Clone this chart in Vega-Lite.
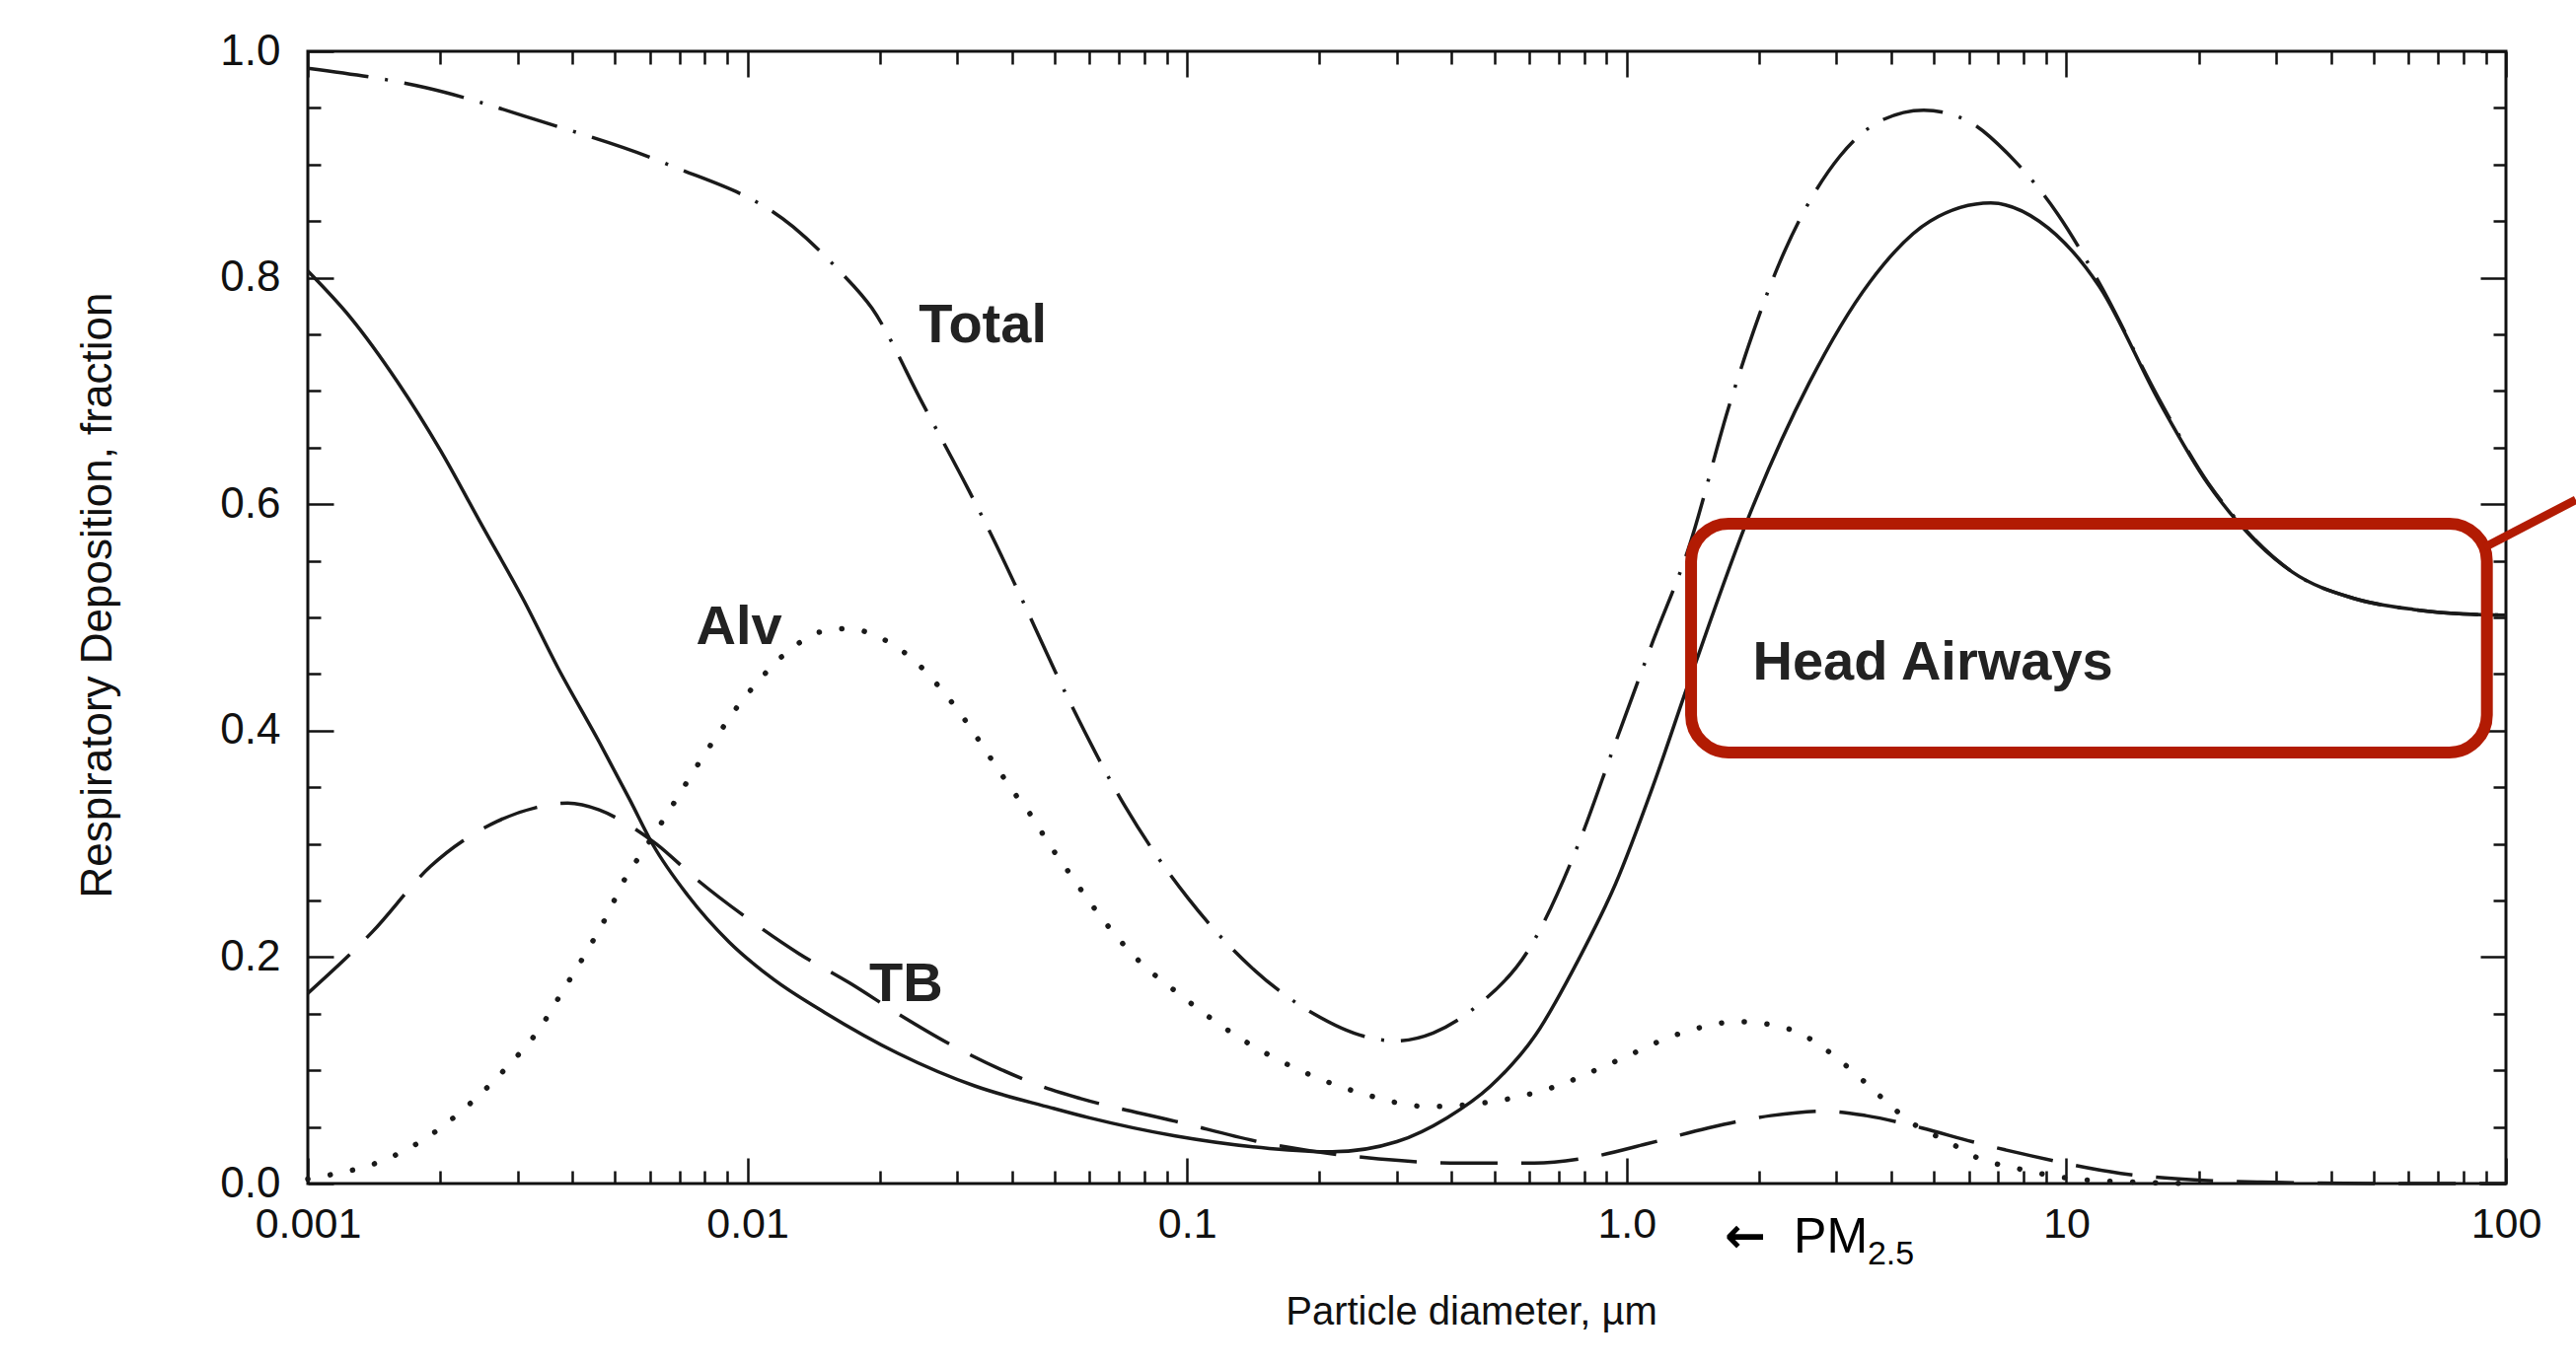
{
  "$schema": "https://vega.github.io/schema/vega-lite/v6.json",
  "width": 2228,
  "height": 1148,
  "autosize": {"type": "none"},
  "padding": {"left": 312, "top": 52, "right": 71, "bottom": 185},
  "background": "white",
  "config": {
    "view": {"stroke": "#111111", "strokeWidth": 3},
    "font": "Liberation Sans",
    "axis": {
      "domain": false, "grid": false,
      "tickColor": "#111111", "tickWidth": 2.5,
      "labelColor": "#111111", "labelFont": "Liberation Sans", "labelFontSize": 44,
      "labelOverlap": false, "labelFlush": false,
      "titleColor": "#111111", "titleFont": "Liberation Sans", "titleFontWeight": "normal"
    }
  },
  "resolve": {"axis": {"x": "independent", "y": "independent"}},
  "datasets": {
    "curves": [
      {"s":"Head Airways","d":0.001,"v":0.806},{"s":"Head Airways","d":0.00125,"v":0.765},{"s":"Head Airways","d":0.0016,"v":0.708},{"s":"Head Airways","d":0.002,"v":0.648},{"s":"Head Airways","d":0.0025,"v":0.58},{"s":"Head Airways","d":0.0031,"v":0.515},{"s":"Head Airways","d":0.0037,"v":0.456},{"s":"Head Airways","d":0.0046,"v":0.39},{"s":"Head Airways","d":0.0054,"v":0.339},{"s":"Head Airways","d":0.0061,"v":0.299},{"s":"Head Airways","d":0.0073,"v":0.255},{"s":"Head Airways","d":0.0091,"v":0.213},{"s":"Head Airways","d":0.0115,"v":0.18},{"s":"Head Airways","d":0.015,"v":0.151},{"s":"Head Airways","d":0.022,"v":0.115},{"s":"Head Airways","d":0.033,"v":0.086},{"s":"Head Airways","d":0.049,"v":0.067},{"s":"Head Airways","d":0.06,"v":0.058},{"s":"Head Airways","d":0.094,"v":0.042},{"s":"Head Airways","d":0.154,"v":0.031},{"s":"Head Airways","d":0.214,"v":0.028},{"s":"Head Airways","d":0.3,"v":0.037},{"s":"Head Airways","d":0.39,"v":0.058},{"s":"Head Airways","d":0.49,"v":0.086},{"s":"Head Airways","d":0.62,"v":0.131},{"s":"Head Airways","d":0.775,"v":0.197},{"s":"Head Airways","d":0.944,"v":0.265},{"s":"Head Airways","d":1.15,"v":0.352},{"s":"Head Airways","d":1.4,"v":0.448},{"s":"Head Airways","d":1.9,"v":0.59},{"s":"Head Airways","d":2.6,"v":0.707},{"s":"Head Airways","d":3.57,"v":0.796},{"s":"Head Airways","d":4.9,"v":0.85},{"s":"Head Airways","d":6.73,"v":0.866},{"s":"Head Airways","d":8.67,"v":0.85},{"s":"Head Airways","d":11.9,"v":0.792},{"s":"Head Airways","d":16.3,"v":0.69},{"s":"Head Airways","d":21,"v":0.618},{"s":"Head Airways","d":24.7,"v":0.583},{"s":"Head Airways","d":32.7,"v":0.54},{"s":"Head Airways","d":44.9,"v":0.517},{"s":"Head Airways","d":61.6,"v":0.507},{"s":"Head Airways","d":80,"v":0.503},{"s":"Head Airways","d":100,"v":0.502},
      {"s":"Total","d":0.001,"v":0.985},{"s":"Total","d":0.00185,"v":0.968},{"s":"Total","d":0.0034,"v":0.938},{"s":"Total","d":0.0066,"v":0.9},{"s":"Total","d":0.0127,"v":0.845},{"s":"Total","d":0.0161,"v":0.807},{"s":"Total","d":0.0192,"v":0.773},{"s":"Total","d":0.0251,"v":0.688},{"s":"Total","d":0.0319,"v":0.612},{"s":"Total","d":0.0366,"v":0.566},{"s":"Total","d":0.0413,"v":0.523},{"s":"Total","d":0.0537,"v":0.428},{"s":"Total","d":0.0723,"v":0.333},{"s":"Total","d":0.1005,"v":0.252},{"s":"Total","d":0.14,"v":0.191},{"s":"Total","d":0.194,"v":0.15},{"s":"Total","d":0.253,"v":0.13},{"s":"Total","d":0.298,"v":0.126},{"s":"Total","d":0.363,"v":0.133},{"s":"Total","d":0.457,"v":0.157},{"s":"Total","d":0.595,"v":0.205},{"s":"Total","d":0.775,"v":0.299},{"s":"Total","d":0.944,"v":0.39},{"s":"Total","d":1.15,"v":0.48},{"s":"Total","d":1.38,"v":0.56},{"s":"Total","d":1.72,"v":0.69},{"s":"Total","d":2.22,"v":0.812},{"s":"Total","d":3.05,"v":0.907},{"s":"Total","d":3.8,"v":0.939},{"s":"Total","d":4.74,"v":0.948},{"s":"Total","d":5.93,"v":0.939},{"s":"Total","d":7.64,"v":0.903},{"s":"Total","d":9.53,"v":0.857},{"s":"Total","d":11.9,"v":0.795},{"s":"Total","d":16.3,"v":0.692},{"s":"Total","d":21,"v":0.619},{"s":"Total","d":24.7,"v":0.584},{"s":"Total","d":32.7,"v":0.54},{"s":"Total","d":44.9,"v":0.517},{"s":"Total","d":61.6,"v":0.507},{"s":"Total","d":80,"v":0.503},{"s":"Total","d":100,"v":0.502},
      {"s":"TB","d":0.001,"v":0.168},{"s":"TB","d":0.0014,"v":0.222},{"s":"TB","d":0.0019,"v":0.28},{"s":"TB","d":0.0027,"v":0.32},{"s":"TB","d":0.0033,"v":0.332},{"s":"TB","d":0.0039,"v":0.336},{"s":"TB","d":0.0046,"v":0.33},{"s":"TB","d":0.0053,"v":0.318},{"s":"TB","d":0.0062,"v":0.3},{"s":"TB","d":0.0077,"v":0.268},{"s":"TB","d":0.0101,"v":0.233},{"s":"TB","d":0.0131,"v":0.203},{"s":"TB","d":0.0171,"v":0.177},{"s":"TB","d":0.0222,"v":0.149},{"s":"TB","d":0.0289,"v":0.123},{"s":"TB","d":0.0376,"v":0.101},{"s":"TB","d":0.049,"v":0.083},{"s":"TB","d":0.0573,"v":0.075},{"s":"TB","d":0.094,"v":0.055},{"s":"TB","d":0.154,"v":0.035},{"s":"TB","d":0.253,"v":0.023},{"s":"TB","d":0.418,"v":0.018},{"s":"TB","d":0.616,"v":0.018},{"s":"TB","d":0.82,"v":0.023},{"s":"TB","d":1.11,"v":0.035},{"s":"TB","d":1.53,"v":0.049},{"s":"TB","d":2.13,"v":0.06},{"s":"TB","d":2.8,"v":0.064},{"s":"TB","d":3.5,"v":0.06},{"s":"TB","d":4.7,"v":0.049},{"s":"TB","d":6.1,"v":0.037},{"s":"TB","d":8,"v":0.026},{"s":"TB","d":13.3,"v":0.009},{"s":"TB","d":20,"v":0.003},{"s":"TB","d":30,"v":0.001},{"s":"TB","d":50,"v":0},{"s":"TB","d":100,"v":0},
      {"s":"Alv","d":0.001,"v":0.004},{"s":"Alv","d":0.0011,"v":0.007},{"s":"Alv","d":0.00143,"v":0.018},{"s":"Alv","d":0.00182,"v":0.038},{"s":"Alv","d":0.00233,"v":0.07},{"s":"Alv","d":0.00284,"v":0.103},{"s":"Alv","d":0.00337,"v":0.137},{"s":"Alv","d":0.0038,"v":0.17},{"s":"Alv","d":0.00434,"v":0.207},{"s":"Alv","d":0.00481,"v":0.238},{"s":"Alv","d":0.00521,"v":0.266},{"s":"Alv","d":0.00587,"v":0.297},{"s":"Alv","d":0.00653,"v":0.325},{"s":"Alv","d":0.00735,"v":0.357},{"s":"Alv","d":0.00817,"v":0.385},{"s":"Alv","d":0.00895,"v":0.407},{"s":"Alv","d":0.00969,"v":0.426},{"s":"Alv","d":0.0105,"v":0.442},{"s":"Alv","d":0.0115,"v":0.459},{"s":"Alv","d":0.01295,"v":0.476},{"s":"Alv","d":0.01458,"v":0.487},{"s":"Alv","d":0.01663,"v":0.49},{"s":"Alv","d":0.0187,"v":0.487},{"s":"Alv","d":0.0214,"v":0.476},{"s":"Alv","d":0.0241,"v":0.461},{"s":"Alv","d":0.0267,"v":0.443},{"s":"Alv","d":0.0289,"v":0.427},{"s":"Alv","d":0.0313,"v":0.409},{"s":"Alv","d":0.0334,"v":0.393},{"s":"Alv","d":0.0357,"v":0.376},{"s":"Alv","d":0.0382,"v":0.359},{"s":"Alv","d":0.0408,"v":0.343},{"s":"Alv","d":0.0442,"v":0.325},{"s":"Alv","d":0.0471,"v":0.308},{"s":"Alv","d":0.0503,"v":0.291},{"s":"Alv","d":0.0545,"v":0.272},{"s":"Alv","d":0.0582,"v":0.256},{"s":"Alv","d":0.0672,"v":0.224},{"s":"Alv","d":0.078,"v":0.196},{"s":"Alv","d":0.094,"v":0.17},{"s":"Alv","d":0.13,"v":0.13},{"s":"Alv","d":0.183,"v":0.099},{"s":"Alv","d":0.253,"v":0.079},{"s":"Alv","d":0.353,"v":0.068},{"s":"Alv","d":0.489,"v":0.072},{"s":"Alv","d":0.68,"v":0.085},{"s":"Alv","d":0.944,"v":0.108},{"s":"Alv","d":1.31,"v":0.132},{"s":"Alv","d":1.8,"v":0.143},{"s":"Alv","d":2.36,"v":0.136},{"s":"Alv","d":2.66,"v":0.126},{"s":"Alv","d":2.98,"v":0.112},{"s":"Alv","d":3.38,"v":0.094},{"s":"Alv","d":3.8,"v":0.076},{"s":"Alv","d":4.4,"v":0.055},{"s":"Alv","d":5.5,"v":0.035},{"s":"Alv","d":6.1,"v":0.025},{"s":"Alv","d":8,"v":0.012},{"s":"Alv","d":10.5,"v":0.004},{"s":"Alv","d":15,"v":0.001},{"s":"Alv","d":20,"v":0}
    ],
    "labels": [
      {"t":"Total","x":0.0343,"y":0.743},
      {"t":"Alv","x":0.00957,"y":0.4765},
      {"t":"TB","x":0.02296,"y":0.161},
      {"t":"Head Airways","x":4.97,"y":0.445}
    ],
    "box": [{"x1":1.401,"x2":90.5,"y1":0.3807,"y2":0.5828}],
    "leader": [{"x1":89.3,"x2":144.2,"y1":0.5618,"y2":0.6039}],
    "pm": [
      {"t":"←","x":1.67,"y":-0.061,"k":"arrow"},
      {"t":"PM","x":2.398,"y":-0.061,"k":"main"},
      {"t":"2.5","x":3.53,"y":-0.0714,"k":"sub"}
    ]
  },
  "layer": [
    {
      "data": {"name": "curves"},
      "transform": [{"filter": "datum.s === 'Head Airways'"}],
      "mark": {"type": "line", "stroke": "#1a1a1a", "strokeWidth": 3.5, "interpolate": "monotone"},
      "encoding": {
        "x": {
          "field": "d", "type": "quantitative",
          "scale": {"type": "log", "domain": [0.001, 100], "nice": false},
          "axis": {
            "orient": "bottom",
            "values": [0.001,0.002,0.003,0.004,0.005,0.006,0.007,0.008,0.009,0.01,0.02,0.03,0.04,0.05,0.06,0.07,0.08,0.09,0.1,0.2,0.3,0.4,0.5,0.6,0.7,0.8,0.9,1,2,3,4,5,6,7,8,9,10,20,30,40,50,60,70,80,90,100],
            "labelExpr": "datum.value == 0.001 ? '0.001' : datum.value == 0.01 ? '0.01' : datum.value == 0.1 ? '0.1' : datum.value == 1 ? '1.0' : datum.value == 10 ? '10' : datum.value == 100 ? '100' : ''",
            "tickSize": {"condition": {"test": "indexof([0.001,0.01,0.1,1,10,100], datum.value) >= 0", "value": -26}, "value": -13},
            "labelPadding": 46,
            "labelFontSize": 43,
            "labelBaseline": "top",
            "title": "Particle diameter, µm",
            "titleFontSize": 40,
            "titleX": 1179,
            "titleY": 142,
            "titleAlign": "center",
            "titleBaseline": "alphabetic"
          }
        },
        "y": {
          "field": "v", "type": "quantitative",
          "scale": {"domain": [0, 1], "nice": false, "zero": false},
          "axis": {
            "orient": "left",
            "values": [0,0.05,0.1,0.15,0.2,0.25,0.3,0.35,0.4,0.45,0.5,0.55,0.6,0.65,0.7,0.75,0.8,0.85,0.9,0.95,1],
            "labelExpr": "indexof([0,0.2,0.4,0.6,0.8,1], datum.value) >= 0 ? format(datum.value, '.1f') : ''",
            "tickSize": {"condition": {"test": "indexof([0,0.2,0.4,0.6,0.8,1], datum.value) >= 0", "value": -26}, "value": -13},
            "labelPadding": 54,
            "title": "Respiratory Deposition, fraction",
            "titleFontSize": 44,
            "titleAngle": 270,
            "titleX": -200,
            "titleY": 551,
            "titleAlign": "center",
            "titleBaseline": "alphabetic"
          }
        }
      }
    },
    {
      "data": {"name": "curves"},
      "transform": [{"filter": "datum.s === 'Total'"}],
      "mark": {"type": "line", "stroke": "#1a1a1a", "strokeWidth": 3.5, "interpolate": "monotone", "strokeDash": [62, 17, 3, 17]},
      "encoding": {
        "x": {"field": "d", "type": "quantitative", "scale": {"type": "log", "domain": [0.001, 100], "nice": false}, "axis": null},
        "y": {"field": "v", "type": "quantitative", "scale": {"domain": [0, 1], "nice": false, "zero": false}, "axis": null}
      }
    },
    {
      "data": {"name": "curves"},
      "transform": [{"filter": "datum.s === 'TB'"}],
      "mark": {"type": "line", "stroke": "#1a1a1a", "strokeWidth": 3.5, "interpolate": "monotone", "strokeDash": [58, 24]},
      "encoding": {
        "x": {"field": "d", "type": "quantitative", "scale": {"type": "log", "domain": [0.001, 100], "nice": false}, "axis": null},
        "y": {"field": "v", "type": "quantitative", "scale": {"domain": [0, 1], "nice": false, "zero": false}, "axis": null}
      }
    },
    {
      "data": {"name": "curves"},
      "transform": [{"filter": "datum.s === 'Alv'"}],
      "mark": {"type": "line", "stroke": "#1a1a1a", "strokeWidth": 5.5, "strokeCap": "round", "interpolate": "monotone", "strokeDash": [0.1, 23]},
      "encoding": {
        "x": {"field": "d", "type": "quantitative", "scale": {"type": "log", "domain": [0.001, 100], "nice": false}, "axis": null},
        "y": {"field": "v", "type": "quantitative", "scale": {"domain": [0, 1], "nice": false, "zero": false}, "axis": null}
      }
    },
    {
      "data": {"name": "labels"},
      "mark": {"type": "text", "font": "Liberation Sans", "fontSize": 56, "fontWeight": "bold", "align": "center", "baseline": "alphabetic", "fill": "#222222"},
      "encoding": {
        "text": {"field": "t"},
        "x": {
          "field": "x", "type": "quantitative",
          "scale": {"type": "log", "domain": [0.001, 100], "nice": false},
          "axis": {
            "orient": "top", "labels": false, "title": null,
            "values": [0.001,0.002,0.003,0.004,0.005,0.006,0.007,0.008,0.009,0.01,0.02,0.03,0.04,0.05,0.06,0.07,0.08,0.09,0.1,0.2,0.3,0.4,0.5,0.6,0.7,0.8,0.9,1,2,3,4,5,6,7,8,9,10,20,30,40,50,60,70,80,90,100],
            "tickSize": {"condition": {"test": "indexof([0.001,0.01,0.1,1,10,100], datum.value) >= 0", "value": -26}, "value": -13}
          }
        },
        "y": {
          "field": "y", "type": "quantitative",
          "scale": {"domain": [0, 1], "nice": false, "zero": false},
          "axis": {
            "orient": "right", "labels": false, "title": null,
            "values": [0,0.05,0.1,0.15,0.2,0.25,0.3,0.35,0.4,0.45,0.5,0.55,0.6,0.65,0.7,0.75,0.8,0.85,0.9,0.95,1],
            "tickSize": {"condition": {"test": "indexof([0,0.2,0.4,0.6,0.8,1], datum.value) >= 0", "value": -26}, "value": -13}
          }
        }
      }
    },
    {
      "data": {"name": "box"},
      "mark": {"type": "rect", "fillOpacity": 0, "stroke": "#b21b03", "strokeWidth": 12, "cornerRadius": 38},
      "encoding": {
        "x": {"field": "x1", "type": "quantitative", "scale": {"type": "log", "domain": [0.001, 100], "nice": false}, "axis": null},
        "x2": {"field": "x2"},
        "y": {"field": "y1", "type": "quantitative", "scale": {"domain": [0, 1], "nice": false, "zero": false}, "axis": null},
        "y2": {"field": "y2"}
      }
    },
    {
      "data": {"name": "leader"},
      "mark": {"type": "rule", "stroke": "#b21b03", "strokeWidth": 8.5},
      "encoding": {
        "x": {"field": "x1", "type": "quantitative", "scale": {"type": "log", "domain": [0.001, 100], "nice": false}, "axis": null},
        "x2": {"field": "x2"},
        "y": {"field": "y1", "type": "quantitative", "scale": {"domain": [0, 1], "nice": false, "zero": false}, "axis": null},
        "y2": {"field": "y2"}
      }
    },
    {
      "data": {"name": "pm"},
      "transform": [{"filter": "datum.k === 'arrow'"}],
      "mark": {"type": "text", "font": "DejaVu Sans", "fontSize": 50, "fontWeight": "bold", "align": "left", "baseline": "alphabetic", "fill": "#000000"},
      "encoding": {
        "text": {"field": "t"},
        "x": {"field": "x", "type": "quantitative", "scale": {"type": "log", "domain": [0.001, 100], "nice": false}, "axis": null},
        "y": {"field": "y", "type": "quantitative", "scale": {"domain": [0, 1], "nice": false, "zero": false}, "axis": null}
      }
    },
    {
      "data": {"name": "pm"},
      "transform": [{"filter": "datum.k === 'main'"}],
      "mark": {"type": "text", "font": "Liberation Sans", "fontSize": 50, "align": "left", "baseline": "alphabetic", "fill": "#000000"},
      "encoding": {
        "text": {"field": "t"},
        "x": {"field": "x", "type": "quantitative", "scale": {"type": "log", "domain": [0.001, 100], "nice": false}, "axis": null},
        "y": {"field": "y", "type": "quantitative", "scale": {"domain": [0, 1], "nice": false, "zero": false}, "axis": null}
      }
    },
    {
      "data": {"name": "pm"},
      "transform": [{"filter": "datum.k === 'sub'"}],
      "mark": {"type": "text", "font": "Liberation Sans", "fontSize": 34, "align": "left", "baseline": "alphabetic", "fill": "#000000"},
      "encoding": {
        "text": {"field": "t"},
        "x": {"field": "x", "type": "quantitative", "scale": {"type": "log", "domain": [0.001, 100], "nice": false}, "axis": null},
        "y": {"field": "y", "type": "quantitative", "scale": {"domain": [0, 1], "nice": false, "zero": false}, "axis": null}
      }
    }
  ]
}
